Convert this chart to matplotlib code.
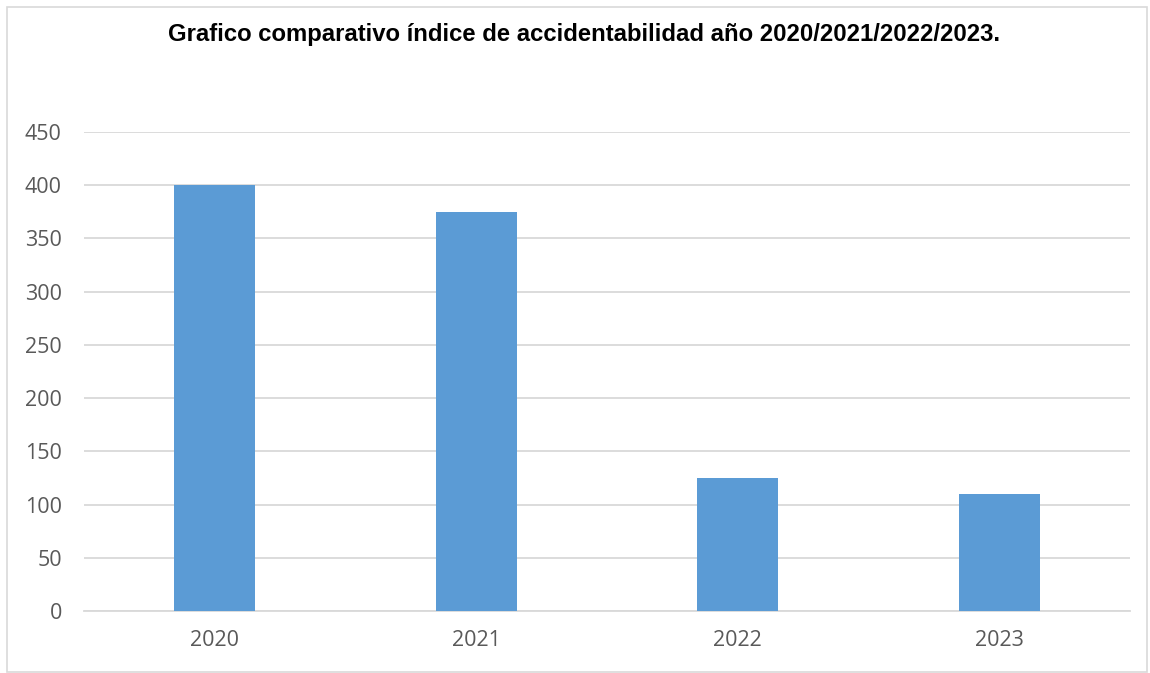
import matplotlib.pyplot as plt
from matplotlib.patches import Rectangle

years = ['2020', '2021', '2022', '2023']
accidents = [400, 375, 125, 110]
y_ticks = [0, 50, 100, 150, 200, 250, 300, 350, 400, 450]

fig = plt.figure(figsize=(11.5, 6.73), dpi=100)
ax = fig.add_axes([84 / 1150, 1 - 611 / 673, (1130 - 84) / 1150, (611 - 132) / 673])

# outer chart frame
fig.patches.append(Rectangle((7 / 1150, 1.5 / 673), 1140 / 1150, 665 / 673,
                             transform=fig.transFigure, fill=False,
                             edgecolor='#d9d9d9', linewidth=1.2))

x = range(len(years))
ax.bar(x, accidents, width=0.31, color='#5b9bd5', zorder=3)

ax.set_xlim(-0.5, len(years) - 0.5)
ax.set_ylim(0, 450)
ax.set_yticks(y_ticks)
ax.set_xticks(list(x))
ax.set_xticklabels(years)
ax.grid(axis='y', color='#d9d9d9', linewidth=1.3, zorder=0)
for side in ['top', 'right', 'left']:
    ax.spines[side].set_visible(False)
ax.spines['bottom'].set_color('#d9d9d9')
ax.spines['bottom'].set_linewidth(1.3)
ax.tick_params(length=0, labelsize=15.5, labelcolor='#595959')
ax.tick_params(axis='y', pad=16)
ax.tick_params(axis='x', pad=14)
for lbl in ax.get_xticklabels() + ax.get_yticklabels():
    lbl.set_family('Open Sans')

fig.text(0.508, 1 - 35 / 673,
         'Grafico comparativo índice de accidentabilidad año 2020/2021/2022/2023.',
         ha='center', va='center', fontsize=17.2, fontweight='bold',
         family='Liberation Sans', color='black')

fig.savefig('out.png', dpi=100)
